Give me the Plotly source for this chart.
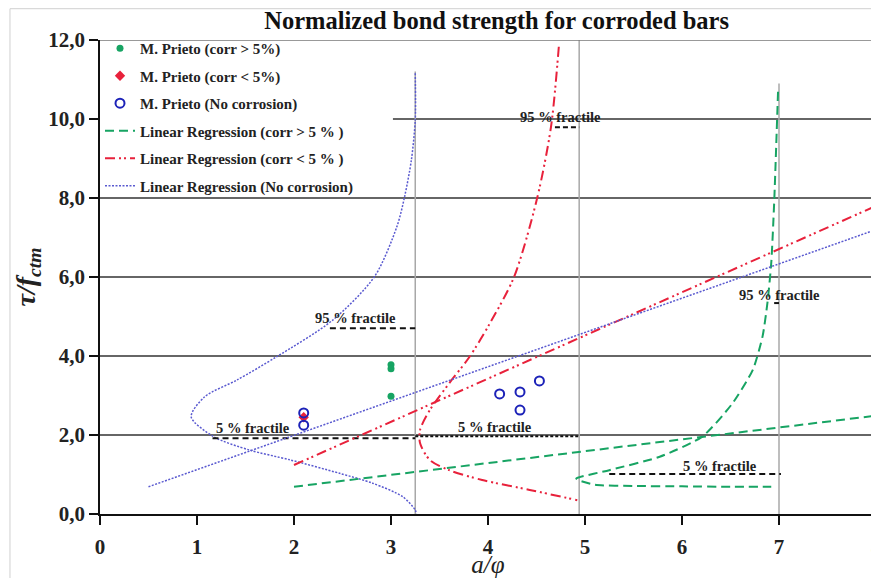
import plotly.graph_objects as go

# ---------------- data ----------------
# measured points
corr_hi_x = [3.0, 3.0, 3.0]
corr_hi_y = [3.78, 3.68, 2.98]
corr_lo_x = [2.1]
corr_lo_y = [2.45]
nocorr_x = [2.1, 2.1, 4.12, 4.33, 4.33, 4.53]
nocorr_y = [2.56, 2.25, 3.04, 3.09, 2.63, 3.37]

# linear regressions (end points)
reg_hi_x = [2.0, 8.0]
reg_hi_y = [0.69, 2.49]
reg_lo_x = [2.0, 8.0]
reg_lo_y = [1.24, 7.80]
reg_no_x = [0.5, 8.0]
reg_no_y = [0.69, 7.20]

# rotated distribution curves (traced)
dist_no_x = [3.25, 3.25, 3.21, 3.14, 3.06, 2.83, 2.40, 1.82, 1.41, 1.08, 0.94,
             1.17, 1.54, 1.96, 2.47, 2.81, 3.12, 3.25, 3.26]
dist_no_y = [11.16, 9.97, 8.96, 8.03, 7.27, 6.01, 4.91, 3.98, 3.39, 2.97, 2.46,
             1.96, 1.62, 1.37, 1.03, 0.78, 0.44, 0.10, 0.0]
dist_lo_x = [4.73, 4.65, 4.51, 4.27, 4.02, 3.81, 3.60, 3.40, 3.30, 3.30, 3.40,
             3.60, 3.94, 4.43, 4.92]
dist_lo_y = [11.83, 9.81, 8.03, 6.01, 4.83, 3.98, 3.31, 2.63, 2.13, 1.79, 1.37,
             1.11, 0.86, 0.61, 0.35]
dist_hi_x = [6.99, 6.95, 6.92, 6.88, 6.83, 6.73, 6.52, 6.21, 5.77, 5.25, 4.91,
             4.93, 5.10, 5.50, 6.00, 6.50, 6.92]
dist_hi_y = [10.69, 7.87, 6.35, 5.33, 4.49, 3.65, 2.80, 1.96, 1.45, 1.11, 0.90,
             0.86, 0.74, 0.71, 0.70, 0.69, 0.69]

# fractile markers
frac_no95_x, frac_no95_y = [2.37, 3.25], [4.70, 4.70]
frac_no05_x, frac_no05_y = [1.16, 3.25], [1.92, 1.92]
frac_lo95_x, frac_lo95_y = [4.69, 4.94], [9.79, 9.79]
frac_lo05_x, frac_lo05_y = [3.25, 4.94], [1.97, 1.97]
frac_hi95_x, frac_hi95_y = [6.95, 7.00], [5.34, 5.34]
frac_hi05_x, frac_hi05_y = [5.25, 7.02], [1.01, 1.01]

# base lines of the distributions
base_x = [3.25, 4.94, 7.0]
base_top = [11.2, 12.0, 10.9]

x_ticks = [0, 1, 2, 3, 4, 5, 6, 7, 8]
y_ticks = [0, 2, 4, 6, 8, 10, 12]

# ---------------- styling ----------------
SERIF = "Liberation Serif, Times New Roman, serif"
GREEN = "#17a463"
RED = "#e8213b"
BLUE = "#1c22b8"
BLUE_L = "#5a5ad0"

fig = go.Figure()

# white panel behind the legend (hides the grid line there)
fig.add_shape(type="rect", xref="x", yref="y", x0=0.0, x1=3.02, y0=8.03, y1=11.97,
              fillcolor="white", line=dict(width=0), layer="between")

# base vertical lines
for bx, bt in zip(base_x, base_top):
    fig.add_shape(type="line", x0=bx, x1=bx, y0=0, y1=bt, xref="x", yref="y",
                  line=dict(color="#a8a8a8", width=1.5), layer="between")

# distribution curves
fig.add_trace(go.Scatter(x=dist_no_x, y=dist_no_y, mode="lines", showlegend=False,
                         line=dict(color=BLUE_L, width=1.5, dash="2px,1.5px", shape="spline", smoothing=0.8),
                         hoverinfo="skip"))
fig.add_trace(go.Scatter(x=dist_lo_x, y=dist_lo_y, mode="lines", showlegend=False,
                         line=dict(color=RED, width=2, dash="10px,4px,2px,3px,2px,4px", shape="spline", smoothing=0.8),
                         hoverinfo="skip"))
fig.add_trace(go.Scatter(x=dist_hi_x, y=dist_hi_y, mode="lines", showlegend=False,
                         line=dict(color=GREEN, width=2, dash="9px,5px", shape="spline", smoothing=0.6),
                         hoverinfo="skip"))

# fractile lines
for fx, fy, dsh in [(frac_no95_x, frac_no95_y, "6px,4px"), (frac_no05_x, frac_no05_y, "6px,4px"),
                    (frac_lo95_x, frac_lo95_y, "5px,3px"), (frac_lo05_x, frac_lo05_y, "3px,2px"),
                    (frac_hi95_x, frac_hi95_y, "5px,3px"), (frac_hi05_x, frac_hi05_y, "6px,4px")]:
    fig.add_trace(go.Scatter(x=fx, y=fy, mode="lines", showlegend=False, hoverinfo="skip",
                             line=dict(color="#111111", width=2, dash=dsh)))

# legend traces: points
fig.add_trace(go.Scatter(x=corr_hi_x, y=corr_hi_y, mode="markers", name="<b>M. Prieto (corr > 5%)</b>",
                         legendgroup="a", marker=dict(color=GREEN, size=7, symbol="circle")))
fig.add_trace(go.Scatter(x=corr_lo_x, y=corr_lo_y, mode="markers", name="<b>M. Prieto (corr < 5%)</b>",
                         legendgroup="b", marker=dict(color=RED, size=8, symbol="diamond")))
fig.add_trace(go.Scatter(x=nocorr_x, y=nocorr_y, mode="markers", name="<b>M. Prieto (No corrosion)</b>",
                         legendgroup="c",
                         marker=dict(color=BLUE, size=9, symbol="circle-open", line=dict(width=2))))
# legend traces: regressions
fig.add_trace(go.Scatter(x=reg_hi_x, y=reg_hi_y, mode="lines", name="<b>Linear Regression (corr > 5 % )</b>",
                         legendgroup="d", line=dict(color=GREEN, width=2, dash="9px,5px")))
fig.add_trace(go.Scatter(x=reg_lo_x, y=reg_lo_y, mode="lines", name="<b>Linear Regression (corr < 5 % )</b>",
                         legendgroup="e", line=dict(color=RED, width=2, dash="10px,4px,2px,3px,2px,4px")))
fig.add_trace(go.Scatter(x=reg_no_x, y=reg_no_y, mode="lines", name="<b>Linear Regression (No corrosion)</b>",
                         legendgroup="f", line=dict(color=BLUE_L, width=1.5, dash="2px,1.5px")))

# fractile labels
labels = [("95 % fractile", 2.63, 4.96), ("5 % fractile", 1.58, 2.18),
          ("5 % fractile", 4.07, 2.20), ("95 % fractile", 4.75, 10.05),
          ("95 % fractile", 7.00, 5.54), ("5 % fractile", 6.39, 1.22)]
for txt, lx, ly in labels:
    fig.add_annotation(x=lx, y=ly, xref="x", yref="y", text="<b>" + txt + "</b>", showarrow=False,
                       font=dict(family=SERIF, size=14.5, color="#222222"))

# top border of plot area and outer image frame
fig.add_shape(type="line", xref="paper", yref="y", x0=0, x1=1, y0=12, y1=12,
              line=dict(color="#777777", width=1.5))
fig.add_shape(type="line", xref="paper", yref="paper", x0=-0.116, x1=-0.116, y0=-0.2, y1=1.066,
              line=dict(color="#d0d0d0", width=1))
fig.add_shape(type="line", xref="paper", yref="paper", x0=-0.116, x1=1.01, y0=1.066, y1=1.066,
              line=dict(color="#d0d0d0", width=1))

# the page places the figure 8 px from the top-left corner, so the figure is
# 871 x 570 to fill the 879 x 578 window
fig.update_layout(
    width=871, height=570,
    margin=dict(l=92, r=3, t=32, b=64),
    paper_bgcolor="white", plot_bgcolor="white",
    separators=",.",
    font=dict(family=SERIF, color="#222222"),
    title=dict(text="<b>Normalized bond strength for corroded bars</b>",
               x=0.561, xanchor="center", y=0.979, yanchor="middle",
               font=dict(family=SERIF, size=24.5, color="#111111")),
    xaxis=dict(range=[0, 8], tickvals=x_ticks, ticktext=[f"<b>{v}</b>" for v in x_ticks],
               showgrid=False, zeroline=False, showline=True, linecolor="#111111", linewidth=2,
               ticks="outside", ticklen=9, tickwidth=1.5, tickcolor="#111111", automargin=False,
               ticklabeloverflow="allow", ticklabelstandoff=4,
               tickfont=dict(family=SERIF, size=21, color="#222222"),
               title=dict(text="<i>a/φ</i>", font=dict(family=SERIF, size=25, color="#222222"), standoff=0)),
    yaxis=dict(range=[0, 12], tickvals=y_ticks,
               ticktext=[f"<b>{v:.1f}</b>".replace(".", ",") for v in y_ticks],
               showgrid=True, gridcolor="#666666", gridwidth=1.5, zeroline=False,
               showline=True, linecolor="#111111", linewidth=1.5, automargin=False,
               ticks="outside", ticklen=9, tickwidth=1.5, tickcolor="#111111",
               tickfont=dict(family=SERIF, size=21, color="#222222"),
               title=dict(text="<b><i>τ/f<sub>ctm</sub></i></b>",
                          font=dict(family=SERIF, size=28, color="#222222"), standoff=4)),
    legend=dict(x=0.0, y=1.017, xanchor="left", yanchor="top", bgcolor="rgba(0,0,0,0)",
                borderwidth=0, tracegroupgap=5,
                font=dict(family=SERIF, size=15, color="#222222")),
    showlegend=True,
)

fig.write_html("out.html")
